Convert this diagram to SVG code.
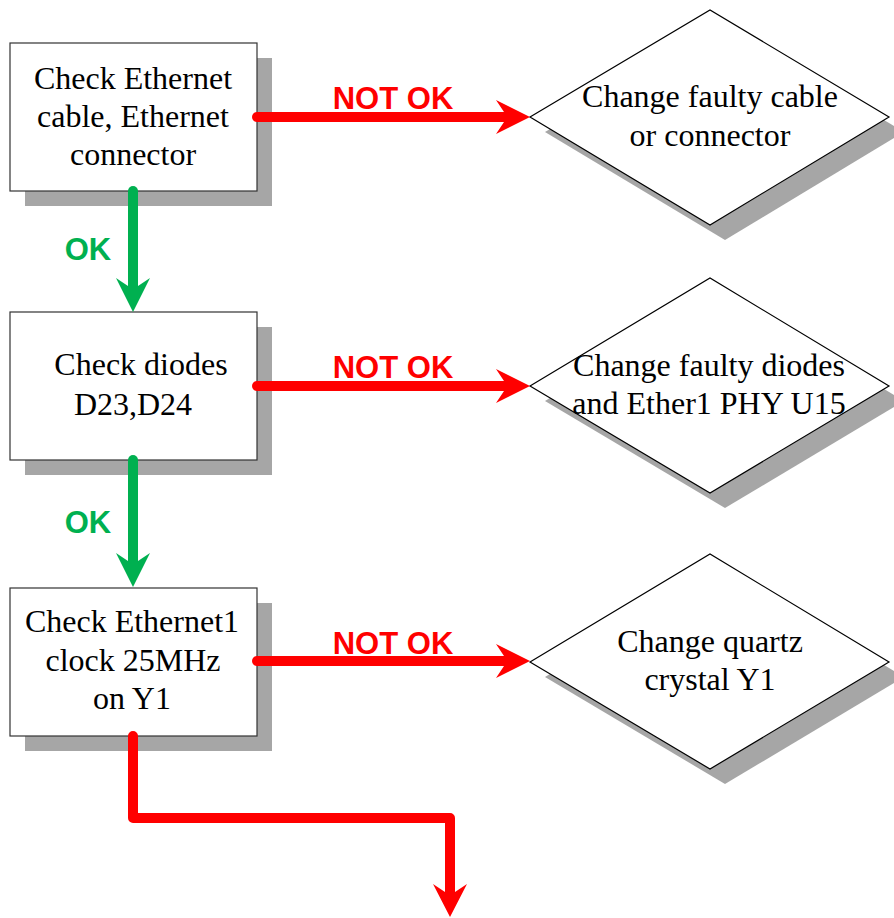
<svg xmlns="http://www.w3.org/2000/svg" width="894" height="918" viewBox="0 0 894 918">
<style>
.shadow{fill:#a6a6a6;stroke:none}
.box{fill:#ffffff;stroke:#333333;stroke-width:1.2}
.dia{fill:#ffffff;stroke:#000000;stroke-width:1.2}
.t{font-family:"Liberation Serif","Times New Roman",serif;font-size:32px;fill:#000000;text-anchor:middle}
.lbl{font-family:"Liberation Sans",Arial,sans-serif;font-size:31px;font-weight:bold;text-anchor:middle}
.red{stroke:#ff0000;stroke-width:10;fill:none;stroke-linecap:round;stroke-linejoin:round}
.grn{stroke:#00b050;stroke-width:10;fill:none;stroke-linecap:round}
</style>
<rect width="894" height="918" fill="#ffffff"/>

<g id="node-check-cable">
<rect class="shadow" x="25" y="58" width="247" height="148"/>
<rect class="box" x="10" y="43" width="247" height="148"/>
<text class="t" x="133" y="89">Check Ethernet</text>
<text class="t" x="133" y="127">cable, Ethernet</text>
<text class="t" x="133" y="165">connector</text>
</g>

<g id="node-check-diodes">
<rect class="shadow" x="25" y="327" width="247" height="148"/>
<rect class="box" x="10" y="312" width="247" height="148"/>
<text class="t" x="141" y="375">Check diodes</text>
<text class="t" x="133" y="415">D23,D24</text>
</g>

<g id="node-check-clock">
<rect class="shadow" x="25" y="603" width="247" height="148"/>
<rect class="box" x="10" y="588" width="247" height="148"/>
<text class="t" x="132" y="632">Check Ethernet1</text>
<text class="t" x="133" y="671">clock 25MHz</text>
<text class="t" x="132" y="709">on Y1</text>
</g>

<g id="node-change-cable">
<polygon class="shadow" points="545,132 725,25 904,132 725,240"/>
<polygon class="dia" points="530,117 710,10 889,117 710,225"/>
<text class="t" x="710" y="107">Change faulty cable</text>
<text class="t" x="710" y="146">or connector</text>
</g>

<g id="node-change-diodes">
<polygon class="shadow" points="545,401 725,293 904,401 725,508"/>
<polygon class="dia" points="530,386 710,278 889,386 710,493"/>
<text class="t" x="709" y="376">Change faulty diodes</text>
<text class="t" x="709" y="414">and Ether1 PHY U15</text>
</g>

<g id="node-change-quartz">
<polygon class="shadow" points="545,677 725,569 904,677 725,784"/>
<polygon class="dia" points="530,662 710,554 889,662 710,769"/>
<text class="t" x="710" y="652">Change quartz</text>
<text class="t" x="710" y="690">crystal Y1</text>
</g>

<g id="connectors">
<line class="red" x1="257" y1="117" x2="505" y2="117"/>
<path d="M530 117 L496 100 L504 112 L504 122 L496 134 Z" fill="#ff0000"/>
<text class="lbl" x="393" y="109" fill="#ff0000">NOT OK</text>

<line class="red" x1="257" y1="386" x2="505" y2="386"/>
<path d="M530 386 L496 369 L504 381 L504 391 L496 403 Z" fill="#ff0000"/>
<text class="lbl" x="393" y="378" fill="#ff0000">NOT OK</text>

<line class="red" x1="257" y1="661" x2="505" y2="661"/>
<path d="M530 661 L496 644 L504 656 L504 666 L496 678 Z" fill="#ff0000"/>
<text class="lbl" x="393" y="654" fill="#ff0000">NOT OK</text>

<line class="grn" x1="133" y1="191" x2="133" y2="287"/>
<path d="M133 312 L116 278 L128 286 L138 286 L150 278 Z" fill="#00b050"/>
<text class="lbl" x="88" y="260" fill="#00b050">OK</text>

<line class="grn" x1="133" y1="460" x2="133" y2="562"/>
<path d="M133 587 L116 553 L128 561 L138 561 L150 553 Z" fill="#00b050"/>
<text class="lbl" x="88" y="533" fill="#00b050">OK</text>

<polyline class="red" points="133,736 133,818 450,818 450,892"/>
<path d="M450 917 L433 884 L445 892 L455 892 L467 884 Z" fill="#ff0000"/>
</g>
</svg>
